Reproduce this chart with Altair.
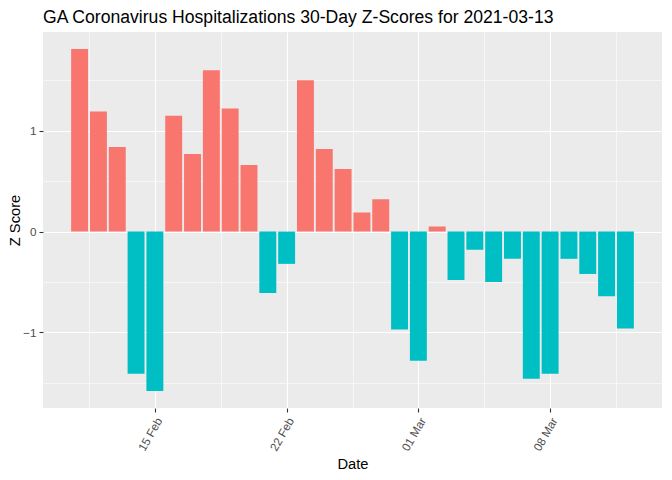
import altair as alt
import pandas as pd

# ---- data ----
dates = pd.date_range("2021-02-11", "2021-03-12", freq="D").strftime("%Y-%m-%d").tolist()
zscores = [1.81, 1.19, 0.84, -1.41, -1.58, 1.15, 0.77, 1.60, 1.22, 0.66,
           -0.61, -0.32, 1.50, 0.82, 0.62, 0.19, 0.32, -0.97, -1.28, 0.05,
           -0.48, -0.18, -0.50, -0.27, -1.46, -1.41, -0.27, -0.42, -0.64, -0.96]
major_ticks = ["2021-02-15", "2021-02-22", "2021-03-01", "2021-03-08"]
minor_ticks = ["2021-02-11T12:00", "2021-02-18T12:00", "2021-02-25T12:00",
               "2021-03-04T12:00", "2021-03-11T12:00"]
y_ticks = [-1.5, -1, -0.5, 0, 0.5, 1, 1.5]

DAY = 86400000
def ms(s):
    return int(pd.Timestamp(s, tz="UTC").value // 1_000_000)

df = pd.DataFrame({"date": dates, "z": zscores})
df["t"] = [ms(d) for d in dates]
df["start"] = df["t"] - int(0.45 * DAY)
df["end"] = df["t"] + int(0.45 * DAY)
df["sign"] = ["pos" if v > 0 else "neg" for v in zscores]

# ggplot-style 5% expansion
xmin, xmax = df["start"].min(), df["end"].max()
xpad = (xmax - xmin) * 0.05
ymin, ymax = min(zscores), max(zscores)
ypad = (ymax - ymin) * 0.05

x_values = sorted([ms(d) for d in major_ticks] + [ms(d) for d in minor_ticks])

FONT = "Liberation Sans"

chart = alt.Chart(df).mark_bar().encode(
    x=alt.X("start:T",
            scale=alt.Scale(type="utc", domain=[int(xmin - xpad), int(xmax + xpad)]),
            axis=alt.Axis(
                title="Date",
                values=x_values,
                labelExpr="utchours(datum.value) == 0 ? utcFormat(datum.value, '%d %b') : ''",
                labelAngle=300,
                labelAlign="right",
                labelBaseline="middle",
                labelPadding=6,
                labelOffset=4,
                tickOpacity={"condition": {"test": "utchours(datum.value) != 0", "value": 0}, "value": 1},
                gridWidth={"condition": {"test": "utchours(datum.value) != 0", "value": 0.55}, "value": 1.1},
            )),
    x2="end:T",
    y=alt.Y("z:Q",
            scale=alt.Scale(domain=[ymin - ypad, ymax + ypad], nice=False, zero=False),
            axis=alt.Axis(
                title="Z Score",
                values=y_ticks,
                labelExpr="datum.value % 1 == 0 ? format(datum.value, 'd') : ''",
                tickOpacity={"condition": {"test": "datum.value % 1 != 0", "value": 0}, "value": 1},
                gridWidth={"condition": {"test": "datum.value % 1 != 0", "value": 0.55}, "value": 1.1},
            )),
    y2=alt.datum(0),
    color=alt.Color("sign:N",
                    scale=alt.Scale(domain=["pos", "neg"], range=["#F8766D", "#00BFC4"]),
                    legend=None),
).properties(
    width=619,
    height=376,
    title=alt.TitleParams(
        "GA Coronavirus Hospitalizations 30-Day Z-Scores for 2021-03-13",
        anchor="start", frame="group", font=FONT, fontSize=17.6,
        fontWeight="normal", color="black", offset=5,
    ),
    autosize=alt.AutoSizeParams(type="none"),
    padding={"left": 35, "top": 24, "right": 2, "bottom": 64},
).configure_view(
    fill="#EBEBEB", stroke=None,
).configure_axis(
    domain=False,
    grid=True,
    gridColor="white",
    tickColor="#333333",
    tickSize=4,
    tickWidth=1.1,
    labelColor="#4D4D4D",
    labelFont=FONT,
    labelFontSize=11.7,
    titleFont=FONT,
    titleFontSize=14.7,
    titleFontWeight="normal",
    titleColor="black",
).configure_axisY(
    labelPadding=3,
    titlePadding=0,
).configure_axisX(
    titlePadding=4,
)

chart.save("out.html", embed_options={"renderer": "svg", "actions": False})
